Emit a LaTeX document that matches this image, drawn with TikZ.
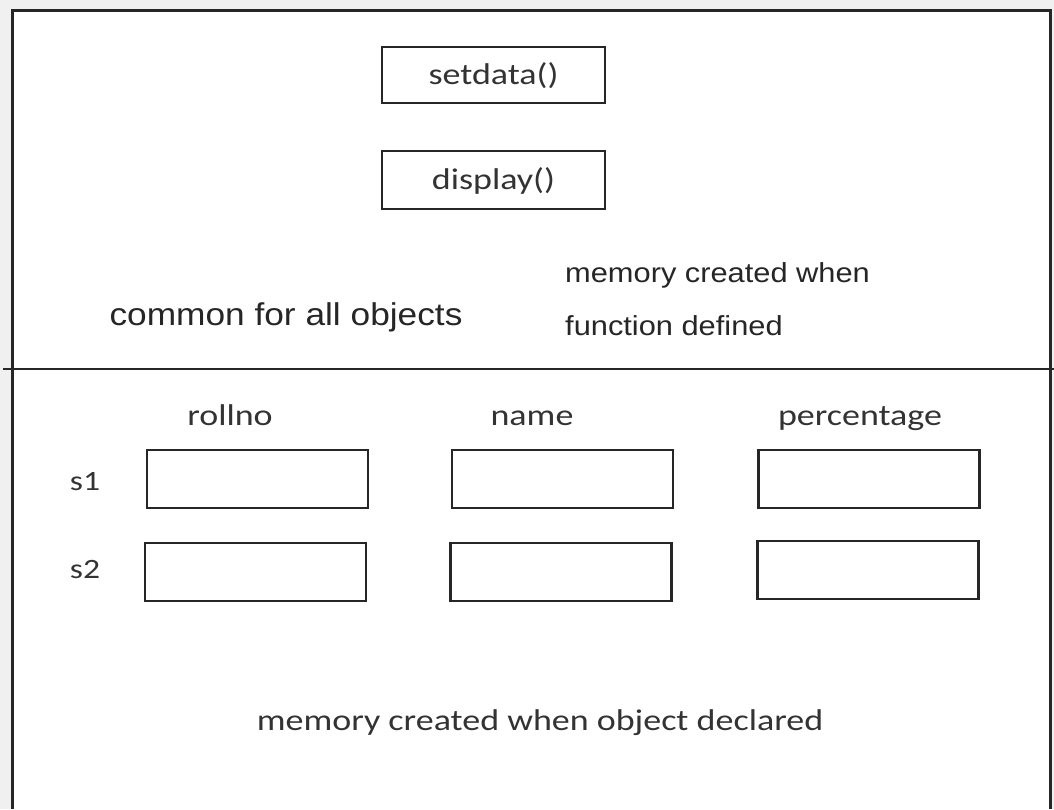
\documentclass[tikz,border=0pt]{standalone}
\usepackage{fontspec}
\setmainfont{Carlito}
\newfontfamily\calibwide[FakeStretch=1.2]{Carlito}
\newfontfamily\arialwide[FakeStretch=1.12]{Liberation Sans}

\begin{document}
\begin{tikzpicture}[x=1pt,y=-1pt]
\tikzset{FrameStyle/.style ={line width=3pt, black!85}}
\tikzset{CellStyle/.style ={draw, line width=2.5pt, black!85, minimum width=221pt, minimum height=58pt, inner sep=0pt}}
\tikzset{FuncStyle/.style ={CellStyle, minimum width=223pt, minimum height=56pt}}
\tikzset{TextStyle/.style ={text=black!80, inner sep=0pt, anchor=base, font=\calibwide\fontsize{30}{36}\selectfont}}
\tikzset{NoteStyle/.style ={text=black!85, inner sep=0pt, anchor=base west, font=\arialwide\fontsize{27.5}{33}\selectfont}}
\useasboundingbox[fill=black!6] (0,0) rectangle (1054,809);
\fill[white] (12,10) rectangle (1050,809);
\draw[FrameStyle] (12,809) -- (12,10) -- (1050,10) -- (1050,809);
\draw[FrameStyle, line width=2.5pt] (3,369) -- (1054,369);
% functions
\node[FuncStyle] (setdata) at (493.5,75) {};
\node[FuncStyle, minimum height=58pt] (display) at (493.5,180) {};
\node[TextStyle] (setdatatext) at (493.5,84) {setdata()};
\node[TextStyle] (displaytext) at (493.5,189) {display()};
\node[NoteStyle] (memfunA) at (565,282) {memory created when};
\node[NoteStyle] (memfunB) at (565,335) {function defined};
\node[NoteStyle, anchor=base, font=\arialwide\fontsize{31.5}{36}\selectfont] (common) at (286,325) {common for all objects};
% data members
\node[TextStyle] (rollno) at (230,425) {rollno};
\node[TextStyle] (name) at (532,425) {name};
\node[TextStyle] (percentage) at (860,425) {percentage};
\node[TextStyle, font=\calibwide\fontsize{28}{34}\selectfont] (sA) at (85,490) {s1};
\node[TextStyle, font=\calibwide\fontsize{28}{34}\selectfont] (sB) at (85,578) {s2};
\node[CellStyle] (sArollno) at (257.5,479) {};
\node[CellStyle] (sAname) at (562.5,479) {};
\node[CellStyle] (sApercentage) at (869,479) {};
\node[CellStyle] (sBrollno) at (255.5,572) {};
\node[CellStyle] (sBname) at (561,572) {};
\node[CellStyle] (sBpercentage) at (868,570) {};
\node[TextStyle] (memobj) at (540,730) {memory created when object declared};
\end{tikzpicture}
\end{document}
